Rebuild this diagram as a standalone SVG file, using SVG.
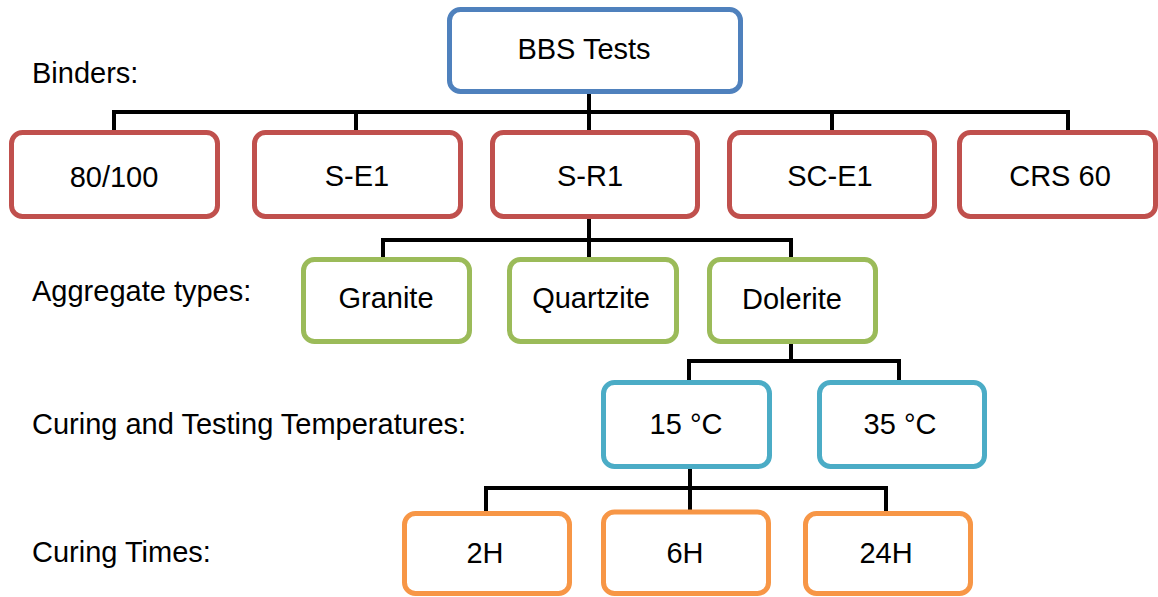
<svg xmlns="http://www.w3.org/2000/svg" width="1158" height="597" viewBox="0 0 1158 597">
<style>
.box{fill:#ffffff;stroke-width:5}
.b{stroke:#4F81BD}
.r{stroke:#C0504D}
.g{stroke:#9BBB59}
.a{stroke:#4BACC6}
.o{stroke:#F79646}
text{font-family:"Liberation Sans",Arial,sans-serif;font-size:29px;fill:#000}
.c{text-anchor:middle}
.conn{fill:none;stroke:#000;stroke-width:4;stroke-linejoin:miter}
</style>
<rect width="1158" height="597" fill="#ffffff"/>
<g id="labels">
<text x="32" y="83">Binders:</text>
<text x="32" y="301">Aggregate types:</text>
<text x="32" y="434">Curing and Testing Temperatures:</text>
<text x="32" y="562">Curing Times:</text>
</g>
<g id="connectors">
<line class="conn" x1="589" y1="94" x2="589" y2="133"/>
<polyline class="conn" points="114,131 114,112 1068,112 1068,131"/>
<line class="conn" x1="356" y1="112" x2="356" y2="131"/>
<line class="conn" x1="832" y1="112" x2="832" y2="131"/>
<line class="conn" x1="589" y1="218" x2="589" y2="258"/>
<polyline class="conn" points="383,258 383,240 791,240 791,258"/>
<line class="conn" x1="791" y1="343" x2="791" y2="361"/>
<polyline class="conn" points="689,381 689,361 899,361 899,381"/>
<line class="conn" x1="690" y1="468" x2="690" y2="510"/>
<polyline class="conn" points="486,511 486,488 886,488 886,511"/>
</g>
<g id="node-bbs"><rect class="box b" x="449.5" y="9.5" width="291" height="82" rx="11"/><text class="c" x="584" y="59">BBS Tests</text></g>
<g id="node-80-100"><rect class="box r" x="11.5" y="132.5" width="206" height="84" rx="11"/><text class="c" x="114" y="187">80/100</text></g>
<g id="node-se1"><rect class="box r" x="254.5" y="132.5" width="206" height="84" rx="11"/><text class="c" x="357" y="186">S-E1</text></g>
<g id="node-sr1"><rect class="box r" x="492.5" y="132.5" width="205" height="84" rx="11"/><text class="c" x="590" y="186">S-R1</text></g>
<g id="node-sce1"><rect class="box r" x="729.5" y="132.5" width="205" height="84" rx="11"/><text class="c" x="830" y="186">SC-E1</text></g>
<g id="node-crs60"><rect class="box r" x="959.5" y="132.5" width="196" height="84" rx="11"/><text class="c" x="1060" y="186">CRS 60</text></g>
<g id="node-granite"><rect class="box g" x="303.5" y="259.5" width="166" height="82" rx="11"/><text class="c" x="386" y="308">Granite</text></g>
<g id="node-quartzite"><rect class="box g" x="509.5" y="259.5" width="167" height="82" rx="11"/><text class="c" x="591" y="308">Quartzite</text></g>
<g id="node-dolerite"><rect class="box g" x="709.5" y="259.5" width="166" height="82" rx="11"/><text class="c" x="792" y="309">Dolerite</text></g>
<g id="node-15c"><rect class="box a" x="603.5" y="382.5" width="166" height="84" rx="11"/><text class="c" x="686" y="434">15 °C</text></g>
<g id="node-35c"><rect class="box a" x="819.5" y="382.5" width="165" height="84" rx="11"/><text class="c" x="900" y="434">35 °C</text></g>
<g id="node-2h"><rect class="box o" x="404.5" y="513.5" width="165" height="80" rx="11"/><text class="c" x="485" y="563">2H</text></g>
<g id="node-6h"><rect class="box o" x="603.5" y="512" width="165" height="81.5" rx="11"/><text class="c" x="685" y="563">6H</text></g>
<g id="node-24h"><rect class="box o" x="805.5" y="513.5" width="165" height="80" rx="11"/><text class="c" x="886" y="563">24H</text></g>
</svg>
